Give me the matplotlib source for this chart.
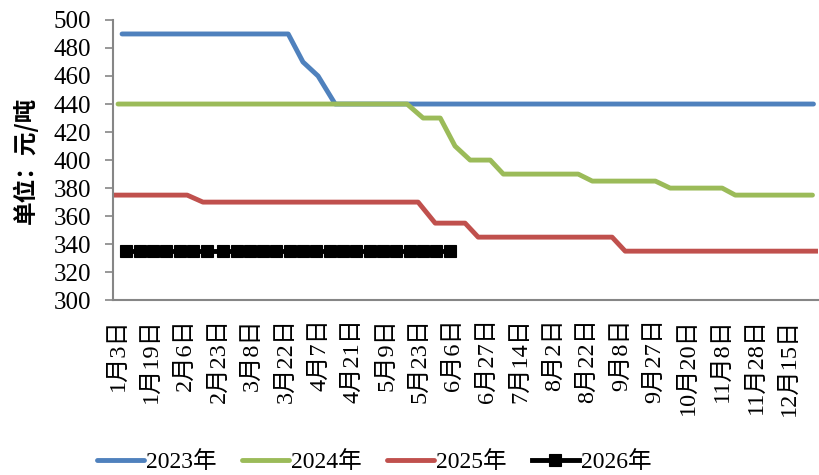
import matplotlib
matplotlib.use("Agg")
import matplotlib.pyplot as plt
import numpy as np

# Category labels along the x axis (one every label step)
date_labels = ["1月3日", "1月19日", "2月6日", "2月23日", "3月8日", "3月22日",
               "4月7日", "4月21日", "5月9日", "5月23日", "6月6日", "6月27日",
               "7月14日", "8月2日", "8月22日", "9月8日", "9月27日", "10月20日",
               "11月8日", "11月28日", "12月15日"]

# Price series, positions given in label-step units along the category axis
x_2023 = [0.12, 5.07, 5.51, 5.96, 6.47, 20.72]
y_2023 = [490, 490, 470, 460, 440, 440]

x_2024 = [0.0, 8.61, 9.09, 9.60, 10.04, 10.49, 11.09, 11.48, 13.71, 14.13,
          16.01, 16.45, 18.00, 18.39, 20.69]
y_2024 = [440, 440, 430, 430, 410, 400, 400, 390, 390, 385,
          385, 380, 380, 375, 375]

x_2025 = [-0.15, 2.06, 2.53, 8.94, 9.45, 10.34, 10.73, 14.72, 15.11, 20.86]
y_2025 = [375, 375, 370, 370, 355, 355, 345, 345, 335, 335]

x_2026 = [0.24, 0.64, 1.04, 1.44, 1.84, 2.24, 2.64,
          3.14, 3.53, 3.93, 4.33, 4.72, 5.12, 5.51, 5.91, 6.31,
          6.71, 7.10, 7.50, 7.89, 8.29, 8.69, 9.08, 9.48, 9.88]
y_2026 = [335] * 25

series_names = ["2023年", "2024年", "2025年", "2026年"]
colors = ["#4F81BD", "#9BBB59", "#C0504D", "#000000"]

latin_cjk = ["Liberation Serif", "Noto Sans CJK SC"]
plt.rcParams["font.family"] = latin_cjk

fig = plt.figure(figsize=(8.19, 4.75), dpi=100)
ax = fig.add_axes([0.138, 0.368, 0.861, 0.590])

lw = 3.5
line_style = dict(lw=lw, solid_capstyle="round", solid_joinstyle="round")
ax.plot(x_2023, y_2023, color=colors[0], label=series_names[0], **line_style)
ax.plot(x_2024, y_2024, color=colors[1], label=series_names[1], **line_style)
ax.plot(x_2025, y_2025, color=colors[2], label=series_names[2], **line_style)
ax.plot(x_2026, y_2026, color=colors[3], lw=lw, marker="s", markersize=8,
        markeredgewidth=0.8, markeredgecolor="#000000",
        label=series_names[3])

ax.set_xlim(-0.149, 20.86)
ax.set_ylim(300, 500)
ax.set_yticks(np.arange(300, 501, 20))
ax.set_xticks(np.arange(len(date_labels)))
ax.set_xticklabels(date_labels, rotation=90, va="top", ha="center")

axis_gray = "#868686"
for side in ["top", "right"]:
    ax.spines[side].set_visible(False)
for side in ["left", "bottom"]:
    ax.spines[side].set_color(axis_gray)
    ax.spines[side].set_linewidth(1.5)

ax.tick_params(axis="y", direction="out", length=6, width=1.2, color=axis_gray,
               labelsize=18, pad=10)
ax.tick_params(axis="x", length=0, labelsize=17.5, pad=13)

ax.set_ylabel("单位：元/吨", family=["Noto Sans CJK SC"], fontsize=17,
              fontweight="bold")
ax.yaxis.set_label_coords(-0.106, 0.5)

fig.legend(loc="center", bbox_to_anchor=(0.457, 0.027), ncol=4, frameon=False,
           fontsize=17, handlelength=2.0, handletextpad=0.1,
           columnspacing=1.05, numpoints=1, borderaxespad=0)

fig.savefig("out.png", dpi=100)
